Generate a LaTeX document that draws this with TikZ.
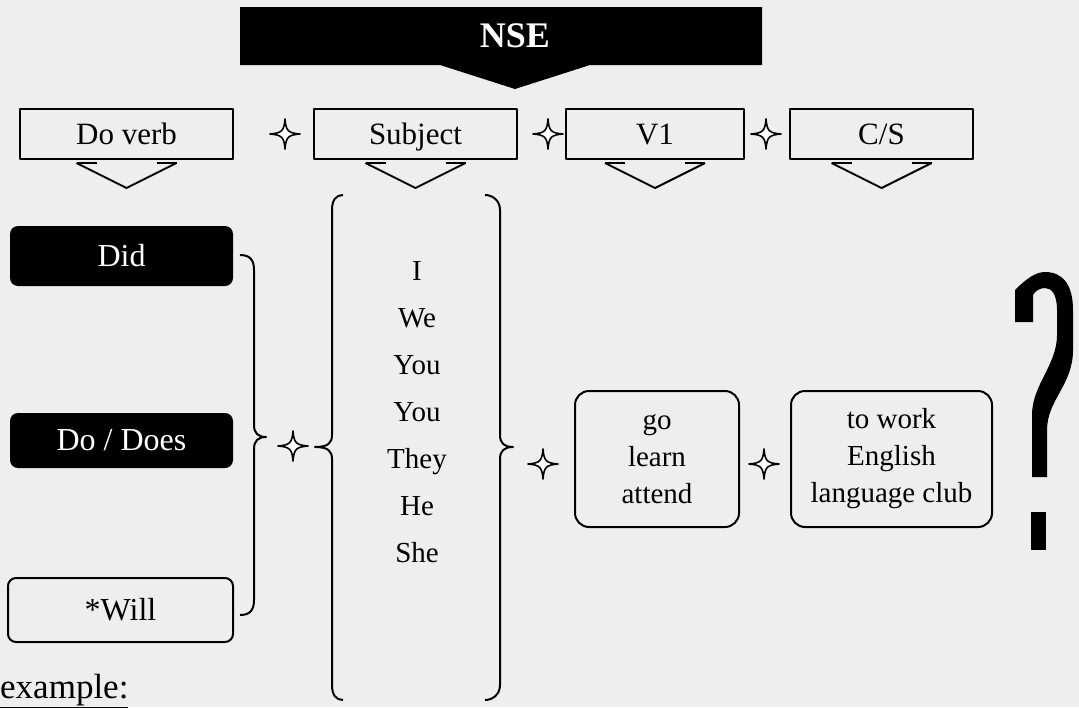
\documentclass[tikz,border=0pt]{standalone}
\usepackage{fontspec}
\setmainfont{Liberation Serif}
\definecolor{paper}{gray}{0.935}
\begin{document}
\begin{tikzpicture}[x=1pt,y=-1pt,line join=round,
  txt/.style={inner sep=0pt,font=\fontsize{#1}{#1}\selectfont},
  topbox/.style={draw,line width=2pt,minimum height=50pt,inner sep=0pt,
    text height=23pt,text depth=3pt,font=\fontsize{31}{34}\selectfont},
  darkbox/.style={fill=black,rounded corners=8pt,inner sep=0pt,text=white,
    font=\fontsize{32}{36}\selectfont},
  lightbox/.style={draw,line width=2pt,rounded corners=8pt,inner sep=0pt,
    font=\fontsize{32}{36}\selectfont},
  wordbox/.style={draw,line width=2pt,rounded corners=14pt,inner sep=0pt,
    minimum height=136pt,align=center,font=\fontsize{29}{37}\selectfont},
  brace/.style={draw,line width=2pt},
  chev/.pic={
    \draw[line width=2pt] (-50,3) -- (0,28) -- (50,3);
    \draw[line width=2.6pt] (-50,3) -- (-30,3) (30,3) -- (50,3);
  },
  spark/.pic={
    \draw[line width=1.6pt,fill=white]
      (0,-15) .. controls (1,-3) and (3,-1) .. (15,0)
      .. controls (3,1) and (1,3) .. (0,15)
      .. controls (-1,3) and (-3,1) .. (-15,0)
      .. controls (-3,-1) and (-1,-3) .. (0,-15) -- cycle;
  }]
\useasboundingbox (0,0) rectangle (1079,707);
\fill[paper] (0,0) rectangle (1079,707);

% heading banner
\fill[black] (240,7) -- (762,7) -- (762,65) -- (590,65) -- (515,89)
  -- (440,65) -- (240,65) -- cycle;
\node[inner sep=0pt,text=white,font=\bfseries\fontsize{36}{36}\selectfont] (nse) at (515,36) {NSE};

% sentence slots
\node[topbox,minimum width=213pt] (dov) at (126.5,134) {Do verb};
\node[topbox,minimum width=203pt] (subj) at (415.5,134) {Subject};
\node[topbox,minimum width=178pt] (vone) at (655,134) {V1};
\node[topbox,minimum width=183pt] (cs) at (881.5,134) {C/S};
\foreach \n in {dov,subj,vone,cs} \pic at (\n.south) {chev};

\pic at (285,134) {spark};
\pic at (548,134) {spark};
\pic at (766,134) {spark};

% auxiliaries
\node[darkbox,minimum width=223pt,minimum height=60pt] (did) at (121.5,256) {Did};
\node[darkbox,minimum width=223pt,minimum height=55pt] (dodoes) at (121.5,440.5) {Do / Does};
\node[lightbox,minimum width=225pt,minimum height=64pt] (will) at (120.5,610) {*Will};

\path[brace] (240,255) .. controls (250,255) and (254,260) .. (254,270)
  -- (254,425) .. controls (254,433) and (258,437) .. (266,437)
  .. controls (258,437) and (254,441) .. (254,449)
  -- (254,600) .. controls (254,610) and (250,615) .. (240,615);

\pic at (293,446) {spark};

% subjects
\path[brace] (343,195) .. controls (336,195) and (332,200) .. (332,210)
  -- (332,435) .. controls (332,443) and (328,447) .. (315,447)
  .. controls (328,447) and (332,451) .. (332,459)
  -- (332,685) .. controls (332,695) and (336,700) .. (343,700);
\path[brace] (485,195) .. controls (492,195) and (500,200) .. (500,210)
  -- (500,435) .. controls (500,443) and (504,447) .. (513,447)
  .. controls (504,447) and (500,451) .. (500,459)
  -- (500,685) .. controls (500,695) and (492,700) .. (485,700);
\foreach \w [count=\i] in {I,We,You,You,They,He,She}
  \node[txt=29,anchor=base] (s\i) at (417,{280+47*(\i-1)}) {\w};

\pic at (543,464) {spark};
\node[wordbox,minimum width=164pt] (verbs) at (657,459) {go\\learn\\attend};
\pic at (764,464) {spark};
\node[wordbox,minimum width=201pt] (compl) at (891.5,459) {to work\\English\\language club};

% question mark
\fill[black] (1015,322) -- (1015,290) .. controls (1025,280) and (1035,272) .. (1045,272)
  .. controls (1063,272) and (1073,285) .. (1073,310) -- (1073,350)
  .. controls (1073,385) and (1047,400) .. (1047,430) -- (1047,477) -- (1032,477)
  -- (1032,415) .. controls (1032,385) and (1057,365) .. (1057,335) -- (1057,310)
  .. controls (1057,295) and (1052,288) .. (1045,288)
  .. controls (1040,288) and (1035,291) .. (1033,295) -- (1033,322) -- cycle;
\fill[black] (1031,512) rectangle (1046,550);

\node[txt=35,anchor=base west] (ex) at (0,698) {\underline{example:}};
\end{tikzpicture}
\end{document}
